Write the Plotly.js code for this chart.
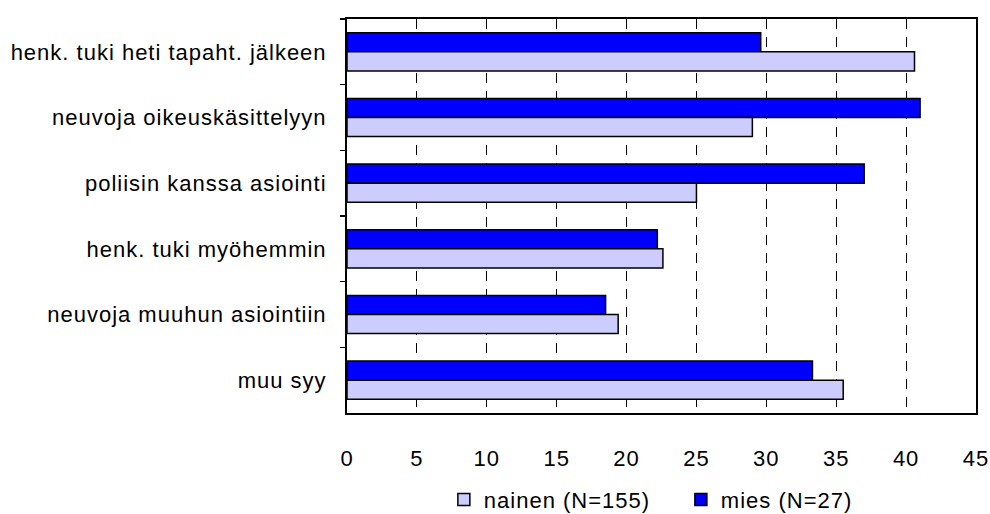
<!DOCTYPE html>
<html>
<head>
<meta charset="utf-8">
<script src="https://cdn.plot.ly/plotly-3.0.1.min.js"></script>
<style>
html,body{margin:0;padding:0;background:#fff;}
#chart{width:990px;height:514px;}
svg text{letter-spacing:1px;}
</style>
</head>
<body>
<div id="chart"></div>
<script>
const categories = [
  "henk. tuki heti tapaht. jälkeen",
  "neuvoja oikeuskäsittelyyn",
  "poliisin kanssa asiointi",
  "henk. tuki myöhemmin",
  "neuvoja muuhun asiointiin",
  "muu syy"
];
const nainen = [40.6, 29.0, 25.0, 22.6, 19.4, 35.5];
const mies = [29.6, 41.0, 37.0, 22.2, 18.5, 33.3];
const seriesNames = ["nainen (N=155)", "mies (N=27)"];
const xTicks = [0, 5, 10, 15, 20, 25, 30, 35, 40, 45];

const font = {family: "Liberation Sans, Arial, sans-serif", size: 22, color: "#000"};

const traces = [
  {type: "bar", orientation: "h", name: seriesNames[1], y: categories, x: mies,
   marker: {color: "#0000FF", line: {color: "#000", width: 1.5}}},
  {type: "bar", orientation: "h", name: seriesNames[0], y: categories, x: nainen,
   marker: {color: "#CCCCFF", line: {color: "#000", width: 1.5}}}
];

const layout = {
  width: 990, height: 514,
  margin: {l: 347, r: 14, t: 19, b: 101, autoexpand: false},
  paper_bgcolor: "#fff", plot_bgcolor: "#fff",
  font: font,
  barmode: "group",
  bargap: 0.42,
  bargroupgap: 0,
  showlegend: true,
  legend: {orientation: "h", x: 0.154, xanchor: "left", y: -0.22, yanchor: "middle",
           bgcolor: "rgba(0,0,0,0)", traceorder: "reversed", font: font,
           itemwidth: 30, entrywidth: 192, entrywidthmode: "pixels"},
  xaxis: {
    range: [0, 45], tickvals: xTicks, ticktext: xTicks.map(String),
    showgrid: true, gridcolor: "#000", gridwidth: 1, griddash: "10px,8px",
    zeroline: false, showline: true, linecolor: "#000", linewidth: 2, mirror: true,
    ticks: "", ticklabelstandoff: 25, tickfont: font, fixedrange: true
  },
  yaxis: {
    type: "category", autorange: "reversed",
    showgrid: false, zeroline: false, showline: true, linecolor: "#000", linewidth: 2, mirror: true,
    ticks: "outside", ticklen: 5, tickcolor: "#000", tickwidth: 1.5, tickson: "boundaries",
    ticklabelstandoff: 14, tickfont: font, fixedrange: true
  }
};

Plotly.newPlot("chart", traces, layout, {displayModeBar: false, staticPlot: true});
</script>
</body>
</html>
